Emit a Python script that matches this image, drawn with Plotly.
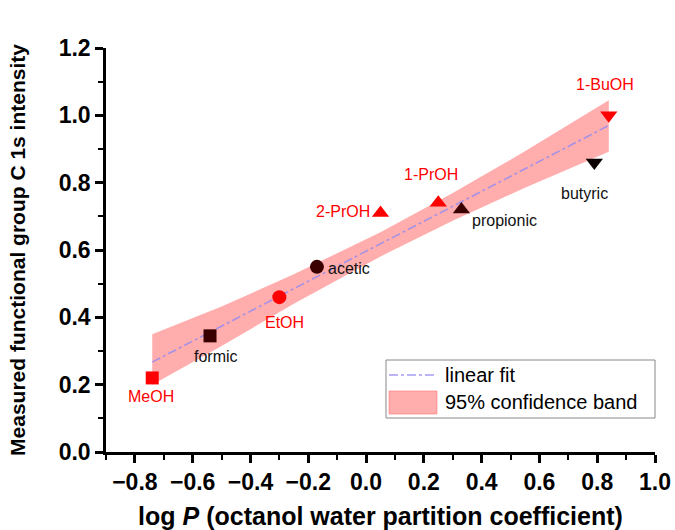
import plotly.graph_objects as go

# ---- data ----
names = ["MeOH", "formic", "EtOH", "acetic", "2-PrOH", "1-PrOH", "propionic", "butyric", "1-BuOH"]
logP = [-0.74, -0.54, -0.30, -0.17, 0.05, 0.25, 0.33, 0.79, 0.84]
intensity = [0.22, 0.345, 0.46, 0.55, 0.71, 0.74, 0.72, 0.86, 1.00]
symbols = ["square", "square", "circle", "circle", "triangle-up", "triangle-up", "triangle-up", "triangle-down", "triangle-down"]
colors = ["#ff0000", "#3a0000", "#ff0000", "#3a0000", "#ff0000", "#ff0000", "#3a0000", "#0a0000", "#ff0000"]
label_colors = ["#ff0000", "#111111", "#ff0000", "#111111", "#ff0000", "#ff0000", "#111111", "#111111", "#ff0000"]

fit_x = [-0.74, 0.84]
fit_y = [0.267, 0.970]

band_x = [-0.74, -0.5, -0.25, 0.05, 0.3, 0.55, 0.84]
band_upper = [0.350, 0.432, 0.528, 0.653, 0.769, 0.893, 1.045]
band_lower = [0.200, 0.315, 0.440, 0.581, 0.687, 0.785, 0.892]

x_ticks = [-0.8, -0.6, -0.4, -0.2, 0.0, 0.2, 0.4, 0.6, 0.8, 1.0]
y_ticks = [0.0, 0.2, 0.4, 0.6, 0.8, 1.0, 1.2]

legend_labels = ["linear fit", "95% confidence band"]

# label placement (styling): anchor, x shift, y shift in px
label_pos = {
    "MeOH": ("center", -1, -19),
    "formic": ("center", 6, -21),
    "EtOH": ("center", 5, -25),
    "acetic": ("left", 9, -2),
    "2-PrOH": ("right", -9, 1),
    "1-PrOH": ("center", -7, 28),
    "propionic": ("left", 9, -11),
    "butyric": ("center", -10, -31),
    "1-BuOH": ("center", -4, 31),
}

FONT = "Arial, 'Liberation Sans', sans-serif"
BAND_COLOR = "rgba(255,105,105,0.55)"
FIT_COLOR = "rgba(150,140,240,0.85)"

fig = go.Figure()

fig.add_trace(go.Scatter(
    x=band_x + band_x[::-1],
    y=band_upper + band_lower[::-1],
    fill="toself",
    fillcolor=BAND_COLOR,
    line=dict(color="rgba(0,0,0,0)", width=0),
    mode="lines",
    name=legend_labels[1],
    hoverinfo="skip",
    showlegend=False,
))

fig.add_trace(go.Scatter(
    x=fit_x, y=fit_y, mode="lines",
    line=dict(color=FIT_COLOR, width=1.6, dash="dashdot"),
    name=legend_labels[0],
    showlegend=False,
))

fig.add_trace(go.Scatter(
    x=logP, y=intensity, mode="markers",
    marker=dict(symbol=symbols, color=colors, size=[13, 13, 14, 14, 15, 15, 15, 15, 15],
                opacity=1, line=dict(width=0)),
    opacity=1,
    showlegend=False,
))

annotations = []
for n, xv, yv, c in zip(names, logP, intensity, label_colors):
    xa, dx, dy = label_pos[n]
    annotations.append(dict(
        x=xv, y=yv, xref="x", yref="y", text=n, showarrow=False,
        xanchor=xa, yanchor="middle", xshift=dx, yshift=dy,
        font=dict(family=FONT, size=16, color=c),
    ))

# hand-drawn legend box (positions in paper px of the plot area)
X0, W, Y0, H = 106, 549, 452, 404
def px(xp):
    return (xp - X0) / W
def py(yp):
    return (Y0 - yp) / H

shapes = [
    dict(type="rect", xref="paper", yref="paper", x0=px(386), x1=px(655), y0=py(418), y1=py(360),
         line=dict(color="#888888", width=1), fillcolor="white", layer="above"),
    dict(type="line", xref="paper", yref="paper", x0=px(389), x1=px(437), y0=py(375), y1=py(375),
         line=dict(color=FIT_COLOR, width=1.6, dash="dashdot"), layer="above"),
    dict(type="rect", xref="paper", yref="paper", x0=px(389), x1=px(437), y0=py(414), y1=py(391),
         line=dict(color="rgba(255,120,120,0.6)", width=1), fillcolor=BAND_COLOR, layer="above"),
]
annotations += [
    dict(x=px(443), y=py(375), xref="paper", yref="paper", text=legend_labels[0], showarrow=False,
         xanchor="left", yanchor="middle", font=dict(family=FONT, size=20, color="black")),
    dict(x=px(443), y=py(402), xref="paper", yref="paper", text=legend_labels[1], showarrow=False,
         xanchor="left", yanchor="middle", font=dict(family=FONT, size=20, color="black")),
]

fig.update_layout(
    width=675, height=530,
    margin=dict(l=106, r=20, t=48, b=78),
    paper_bgcolor="white", plot_bgcolor="white",
    font=dict(family=FONT, color="black"),
    annotations=annotations,
    shapes=shapes,
    showlegend=False,
    xaxis=dict(
        range=[-0.9, 1.0], tickvals=x_ticks, tickformat=".1f",
        showgrid=False, zeroline=False, automargin=False,
        showline=True, linecolor="black", linewidth=2.5,
        ticks="outside", ticklen=8, tickwidth=2.5, tickcolor="black",
        minor=dict(dtick=0.1, ticks="outside", ticklen=5, tickwidth=2, tickcolor="black", showgrid=False),
        tickfont=dict(family=FONT, size=23, color="black", weight="bold"),
        title=dict(text="log <i>P</i> (octanol water partition coefficient)",
                   font=dict(family=FONT, size=25, color="black", weight="bold")),
    ),
    yaxis=dict(
        range=[0, 1.2], tickvals=y_ticks, tickformat=".1f",
        showgrid=False, zeroline=False, automargin=False,
        showline=True, linecolor="black", linewidth=2.5,
        ticks="outside", ticklen=8, tickwidth=2.5, tickcolor="black",
        minor=dict(dtick=0.1, ticks="outside", ticklen=5, tickwidth=2, tickcolor="black", showgrid=False),
        tickfont=dict(family=FONT, size=23, color="black", weight="bold"),
        title=dict(text="Measured functional group C 1s intensity",
                   font=dict(family=FONT, size=21, color="black", weight="bold"), standoff=28),
    ),
)

fig.write_html("out.html")
